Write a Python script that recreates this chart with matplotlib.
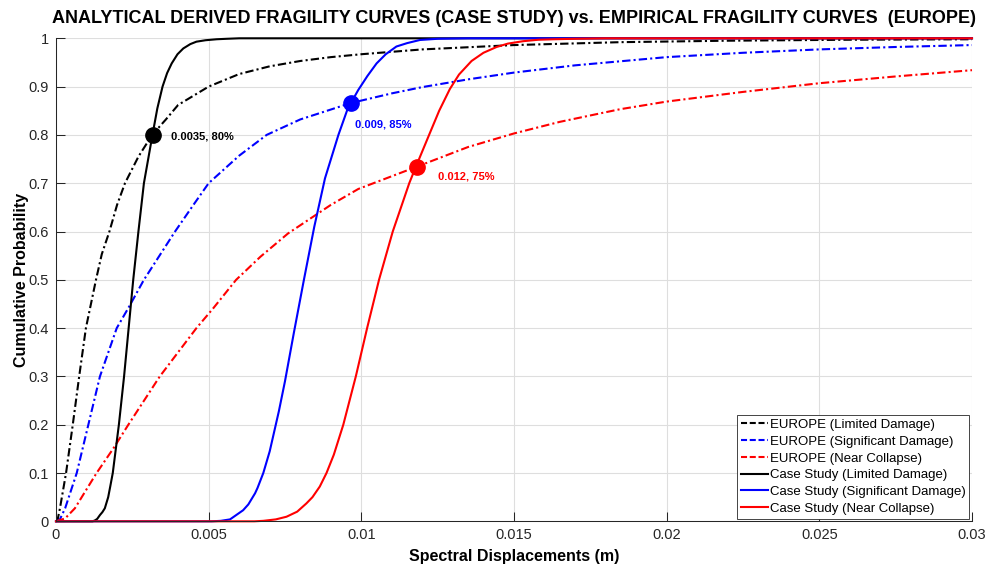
import matplotlib
matplotlib.use("Agg")
import matplotlib.pyplot as plt

# fonts (Arial-like)
plt.rcParams['font.family'] = ['Liberation Sans', 'DejaVu Sans']

# ---- data ----
# EUROPE empirical curves (dash-dot)
eu_ld_x = [0, 0.00005, 0.00013, 0.00033, 0.00055, 0.00076, 0.00098, 0.00131, 0.0015, 0.00175,
           0.002, 0.00226, 0.0027, 0.00315, 0.0036, 0.004, 0.005, 0.006, 0.007, 0.008,
           0.009, 0.01, 0.012, 0.015, 0.0185, 0.022, 0.026, 0.03]
eu_ld_y = [0, 0.002, 0.027, 0.1, 0.2, 0.3, 0.4, 0.5, 0.553, 0.6,
           0.655, 0.7, 0.755, 0.8, 0.832, 0.862, 0.9, 0.926, 0.942, 0.953,
           0.961, 0.967, 0.977, 0.986, 0.992, 0.995, 0.997, 0.998]

eu_sd_x = [0, 0.00012, 0.0003, 0.00068, 0.00106, 0.00144, 0.00199, 0.0024, 0.00288, 0.0039,
           0.0045, 0.005, 0.006, 0.0069, 0.008, 0.00966, 0.011, 0.012, 0.0135, 0.015,
           0.017, 0.02, 0.0225, 0.025, 0.0275, 0.03]
eu_sd_y = [0, 0.003, 0.027, 0.1, 0.2, 0.3, 0.4, 0.445, 0.5, 0.6,
           0.655, 0.7, 0.757, 0.8, 0.832, 0.866, 0.886, 0.899, 0.915, 0.929,
           0.944, 0.961, 0.97, 0.977, 0.982, 0.986]

eu_nc_x = [0, 0.0003, 0.00062, 0.00095, 0.00133, 0.00188, 0.00237, 0.0034, 0.0046, 0.00515,
           0.0059, 0.0067, 0.0076, 0.009, 0.0099, 0.01181, 0.0135, 0.015, 0.0165, 0.01846,
           0.02, 0.0225, 0.025, 0.0275, 0.03]
eu_nc_y = [0, 0.006, 0.027, 0.061, 0.1, 0.151, 0.2, 0.3, 0.4, 0.441,
           0.5, 0.548, 0.596, 0.655, 0.688, 0.734, 0.775, 0.803, 0.827, 0.853,
           0.869, 0.889, 0.907, 0.921, 0.934]

# Case study analytical curves (solid)
cs_ld_x = [0, 0.0012, 0.00128, 0.00135, 0.00144, 0.00152, 0.0016, 0.00171, 0.00178, 0.00186,
           0.00196, 0.00206, 0.00223, 0.00238, 0.00253, 0.0027, 0.00288, 0.00316, 0.00332, 0.00349,
           0.00364, 0.00379, 0.00398, 0.00417, 0.0044, 0.0046, 0.0049, 0.00526, 0.0056, 0.006, 0.03]
cs_ld_y = [0, 0.0, 0.002, 0.005, 0.013, 0.019, 0.027, 0.05, 0.073, 0.1,
           0.15, 0.2, 0.3, 0.4, 0.5, 0.6, 0.7, 0.8, 0.855, 0.9,
           0.928, 0.948, 0.967, 0.979, 0.988, 0.993, 0.996, 0.998, 0.999, 1.0, 1.0]

cs_sd_x = [0, 0.0051, 0.0054, 0.0057, 0.00613, 0.0063, 0.00652, 0.0066, 0.00679, 0.007,
           0.00717, 0.0073, 0.0075, 0.00779, 0.00812, 0.00846, 0.00881, 0.00925, 0.00953, 0.00966,
           0.0099, 0.0102, 0.0105, 0.0108, 0.01115, 0.0115, 0.01192, 0.0125, 0.0135, 0.03]
cs_sd_y = [0, 0.0, 0.001, 0.004, 0.023, 0.035, 0.058, 0.069, 0.1, 0.145,
           0.192, 0.228, 0.29, 0.39, 0.5, 0.61, 0.71, 0.8, 0.85, 0.866,
           0.893, 0.922, 0.948, 0.967, 0.983, 0.99, 0.9965, 0.999, 1.0, 1.0]

cs_nc_x = [0, 0.0065, 0.00679, 0.0072, 0.00755, 0.0079, 0.0082, 0.0084, 0.00864, 0.00886,
           0.0091, 0.00941, 0.00982, 0.01019, 0.01058, 0.01103, 0.01157, 0.01178, 0.01222, 0.01255,
           0.0129, 0.0132, 0.01361, 0.014, 0.01443, 0.0148, 0.0153, 0.0158, 0.0163, 0.017, 0.018, 0.03]
cs_nc_y = [0, 0.0, 0.001, 0.004, 0.0095, 0.02, 0.037, 0.05, 0.072, 0.1,
           0.138, 0.2, 0.3, 0.4, 0.5, 0.6, 0.7, 0.733, 0.8, 0.85,
           0.895, 0.925, 0.953, 0.97, 0.982, 0.989, 0.994, 0.997, 0.998, 0.999, 1.0, 1.0]

# intersection markers and their labels
mark_x = [0.00318, 0.00966, 0.01181]
mark_y = [0.80, 0.866, 0.733]
mark_txt = ["0.0035, 80%", "0.009, 85%", "0.012, 75%"]
mark_col = ["black", "blue", "red"]

x_ticks = [0, 0.005, 0.01, 0.015, 0.02, 0.025, 0.03]
y_ticks = [0, 0.1, 0.2, 0.3, 0.4, 0.5, 0.6, 0.7, 0.8, 0.9, 1]

# ---- figure ----
fig = plt.figure(figsize=(9.89, 5.69), dpi=100)
ax = fig.add_axes([0.0566, 0.0838, 0.9262, 0.8489])

dd = (0, (4, 1.5, 1, 1.5))
ax.plot(eu_ld_x, eu_ld_y, color="black", ls=dd, lw=1.5, label="EUROPE (Limited Damage)", clip_on=False)
ax.plot(eu_sd_x, eu_sd_y, color="blue", ls=dd, lw=1.5, label="EUROPE (Significant Damage)", clip_on=False)
ax.plot(eu_nc_x, eu_nc_y, color="red", ls=dd, lw=1.5, label="EUROPE (Near Collapse)", clip_on=False)
ax.plot(cs_ld_x, cs_ld_y, color="black", lw=1.5, label="Case Study (Limited Damage)", clip_on=False)
ax.plot(cs_sd_x, cs_sd_y, color="blue", lw=1.5, label="Case Study (Significant Damage)", clip_on=False)
ax.plot(cs_nc_x, cs_nc_y, color="red", lw=1.5, label="Case Study (Near Collapse)", clip_on=False)

# markers + labels
offs = [(18, -2), (4, -21), (21, -9)]
for i in range(len(mark_x)):
    ax.plot(mark_x[i], mark_y[i], "o", color=mark_col[i], markersize=11, zorder=5)
    ax.annotate(mark_txt[i], (mark_x[i], mark_y[i]), xytext=offs[i], textcoords="offset pixels",
                color=mark_col[i], fontsize=8, fontweight="bold", va="center", ha="left")

ax.set_xlim(0, 0.03)
ax.set_ylim(0, 1)
ax.set_xticks(x_ticks)
ax.set_yticks(y_ticks)
ax.set_xticklabels(["%g" % v for v in x_ticks])
ax.set_yticklabels(["%g" % v for v in y_ticks])
ax.tick_params(direction="in", length=6.5, width=0.75, colors="#262626", labelsize=10.5, pad=5)
ax.grid(True, color="#dedede", lw=0.8)
ax.set_axisbelow(True)

for s in ["top", "right"]:
    ax.spines[s].set_visible(False)
for s in ["left", "bottom"]:
    ax.spines[s].set_color("#262626")
    ax.spines[s].set_linewidth(0.75)

ax.set_xlabel("Spectral Displacements (m)", fontsize=11.5, fontweight="bold", labelpad=5)
ax.set_ylabel("Cumulative Probability", fontsize=11.5, fontweight="bold", labelpad=0)
ax.set_title("ANALYTICAL DERIVED FRAGILITY CURVES (CASE STUDY) vs. EMPIRICAL FRAGILITY CURVES  (EUROPE)",
             fontsize=13, fontweight="bold", pad=11)

leg = ax.legend(loc="lower right", fontsize=9.5, handlelength=2.1, handletextpad=0.1,
                borderpad=0.3, labelspacing=0.34, borderaxespad=0.2, fancybox=False,
                framealpha=1, edgecolor="#262626")
leg.get_frame().set_linewidth(0.6)
# EUROPE entries are shown as plain dashes in the legend
for ln in leg.get_lines()[:3]:
    ln.set_linestyle((0, (2.9, 1.3)))

plt.savefig("out.png", dpi=100)
